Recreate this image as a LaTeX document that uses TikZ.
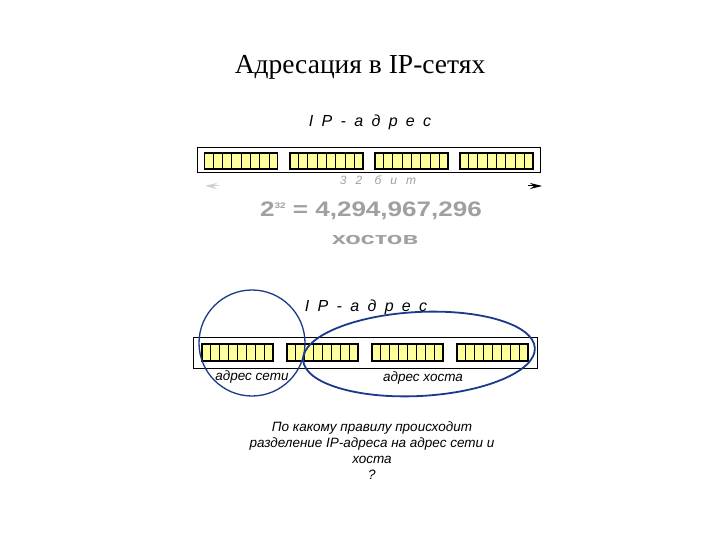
\documentclass[tikz,border=0pt]{standalone}
\usepackage{fontspec}
\setmainfont{Liberation Serif}
\newfontfamily\arialfont{Liberation Sans}
\usetikzlibrary{positioning,calc,arrows.meta,shapes.geometric}
\usepackage{xcolor}
\definecolor{cellyellow}{HTML}{FFFF9C}
\definecolor{ovalblue}{HTML}{1B3A8A}
\definecolor{textgrey}{HTML}{A0A0A0}

\begin{document}
\begin{tikzpicture}[x=1pt,y=-1pt,
	bar/.style={draw=black, line width=1pt, fill=white, inner sep=0pt},
	byte/.style={draw=black, line width=1.6pt, fill=cellyellow, minimum width=73pt, minimum height=16pt, inner sep=0pt},
	ipword/.style={font=\arialfont\itshape\fontsize{16}{18}\selectfont\addfontfeature{LetterSpace=52}, inner sep=0pt},
	part/.style={font=\arialfont\itshape\fontsize{13.5}{15}\selectfont, inner sep=0pt},
	question/.style={font=\arialfont\itshape\fontsize{13.5}{16}\selectfont, align=center, inner sep=0pt}
]
	\useasboundingbox[fill=white] (0,0) rectangle (720,540);
	
	\node[inner sep=0pt, font=\fontsize{27.5}{30}\selectfont] (title) at (360,67) {Адресация в IP-сетях};
	
	% First address, 32 bits
	\node[ipword] (ip1) at (370,122) {IP-адрес};
	\node[bar, minimum width=343pt, minimum height=25pt] (bar1) at (368.5,160.5) {};
	\node[byte] (g11) at (241,161) {};
	\node[byte] (g12) at (326.5,161) {};
	\node[byte] (g13) at (411.5,161) {};
	\node[byte] (g14) at (496.5,161) {};
	\node[inner sep=0pt, text=textgrey, font=\arialfont\itshape\fontsize{12}{13}\selectfont\addfontfeature{LetterSpace=75}] (bits) at (378,180) {32 бит};
	\coordinate (left32) at (205,186);
	\coordinate (right32) at (542,186);
	\draw[textgrey!50, line width=1pt, -{Stealth[length=12pt,width=6pt]}] ($(left32)+(14,0)$) -- (left32);
	\draw[black, line width=1pt, -{Stealth[length=12pt,width=6pt]}] ($(right32)+(-14,0)$) -- (right32);
	
	% Number of hosts
	\node[inner sep=0pt, text=textgrey, font=\arialfont\bfseries\fontsize{21}{24}\selectfont] (count) at (371,211) {\scalebox{1.24}[1]{2\raisebox{8pt}{\fontsize{8}{8}\selectfont 32} = 4,294,967,296}};
	\node[inner sep=0pt, text=textgrey, font=\arialfont\bfseries\fontsize{17}{18}\selectfont] (hosts) at (375,240) {\scalebox{1.5}[1]{хостов}};
	
	% Second address, network and host part
	\node[ipword] (ip2) at (366,307) {IP-адрес};
	\node[bar, minimum width=344pt, minimum height=31pt] (bar2) at (365,353) {};
	\node[byte, minimum width=71pt, minimum height=17pt] (g21) at (237.5,352.5) {};
	\node[byte, minimum width=71pt, minimum height=17pt] (g22) at (322.5,352.5) {};
	\node[byte, minimum width=71pt, minimum height=17pt] (g23) at (407.5,352.5) {};
	\node[byte, minimum width=71pt, minimum height=17pt] (g24) at (492.5,352.5) {};
	
	% bit cells
	\foreach \g in {g11,g12,g13,g14,g21,g22,g23,g24}
		\foreach \i in {1,...,7}
			\draw[line width=0.9pt] ($(\g.north west)!\i/8!(\g.north east)$) -- ($(\g.south west)!\i/8!(\g.south east)$);
	
	\node[part] (netpart) at (252,377) {адрес сети};
	\node[part] (hostpart) at (423,378) {адрес хоста};
	
	\node[draw=ovalblue, line width=1.3pt, circle, minimum size=106pt, inner sep=0pt] (netoval) at (252,343) {};
	\node[draw=ovalblue, line width=1.8pt, ellipse, minimum width=232pt, minimum height=84pt, inner sep=0pt, rotate=3] (hostoval) at (419,354) {};
	
	% Question
	\node[question] (ask) at (372,451) {По какому правилу происходит\\разделение IP-адреса на адрес сети и\\хоста\\?};
\end{tikzpicture}
\end{document}
